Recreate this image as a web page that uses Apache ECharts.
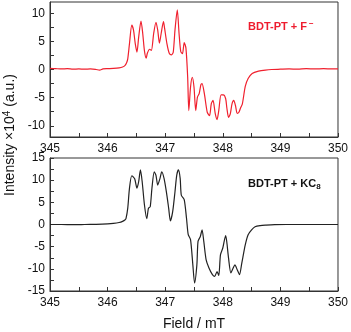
<!DOCTYPE html>
<html>
<head>
<meta charset="utf-8">
<script src="https://cdn.jsdelivr.net/npm/echarts@6/dist/echarts.min.js"></script>
<style>
  html, body { margin: 0; padding: 0; background: #fff; }
  #chart { width: 351px; height: 332px; }
</style>
</head>
<body>
<div id="chart"></div>
<script>
// BDT-PT + F- (top, red)
var fieldTop = [345.00, 345.10, 345.20, 345.30, 345.40, 345.50, 345.60, 345.70, 345.80, 345.86,
  345.92, 346.00, 346.10, 346.20, 346.26, 346.30, 346.33, 346.35, 346.38, 346.42,
  346.45, 346.48, 346.51, 346.54, 346.58, 346.61, 346.64, 346.67, 346.69, 346.73,
  346.76, 346.80, 346.84, 346.87, 346.90, 346.93, 346.97, 346.99, 347.03, 347.07,
  347.11, 347.14, 347.17, 347.21, 347.24, 347.27, 347.30, 347.33, 347.36, 347.39,
  347.41, 347.44, 347.47, 347.50, 347.53, 347.56, 347.59, 347.62, 347.64, 347.68,
  347.73, 347.77, 347.80, 347.83, 347.87, 347.90, 347.93, 347.97, 348.01, 348.05,
  348.07, 348.10, 348.13, 348.16, 348.19, 348.22, 348.25, 348.28, 348.31, 348.34,
  348.39, 348.44, 348.51, 348.62, 348.74, 348.85, 349.00, 349.15, 349.30, 349.45,
  349.60, 349.75, 349.90, 350.00];
var valTop = [0.2, 0.15, 0.1, 0.15, 0.05, 0.1, 0.05, 0.1, 0.0, -0.1,
  0.1, 0.15, 0.2, 0.3, 0.45, 0.7, 1.2, 1.9, 4.6, 7.9,
  7.0, 4.6, 3.1, 5.8, 8.6, 6.4, 3.3, 2.0, 2.9, 3.6,
  3.4, 6.4, 8.4, 7.0, 4.7, 6.4, 8.5, 7.3, 4.6, 2.9,
  2.6, 3.1, 7.0, 10.6, 6.5, 3.2, 2.8, 4.8, 3.8, -1.3,
  -7.3, -3.1, -1.4, -3.1, -7.3, -4.9, -4.3, -2.7, -2.5, -4.3,
  -7.6, -8.2, -6.1, -5.5, -7.9, -8.9, -7.3, -4.5, -4.5, -5.2,
  -6.8, -8.5, -7.9, -6.1, -5.5, -6.4, -7.8, -7.6, -6.8, -6.1,
  -3.0, -1.6, -0.7, -0.3, -0.1, 0.0, 0.05, 0.1, 0.05, 0.15,
  0.1, 0.15, 0.1, 0.1];

// BDT-PT + KC8 (bottom, black)
var fieldBot = [345.00, 345.20, 345.40, 345.60, 345.80, 346.00, 346.10, 346.20, 346.26, 346.30,
  346.32, 346.35, 346.38, 346.42, 346.47, 346.51, 346.54, 346.57, 346.60, 346.64,
  346.68, 346.71, 346.74, 346.77, 346.81, 346.84, 346.87, 346.91, 346.94, 346.98,
  347.02, 347.06, 347.09, 347.13, 347.17, 347.20, 347.23, 347.26, 347.28, 347.33,
  347.37, 347.40, 347.44, 347.48, 347.51, 347.55, 347.57, 347.61, 347.64, 347.67,
  347.71, 347.76, 347.82, 347.86, 347.90, 347.93, 347.96, 348.00, 348.05, 348.07,
  348.10, 348.14, 348.18, 348.21, 348.25, 348.29, 348.33, 348.39, 348.44, 348.50,
  348.56, 348.65, 348.75, 348.90, 349.10, 349.40, 349.70, 350.00];
var valBot = [0.0, 0.0, -0.05, 0.0, 0.05, 0.15, 0.25, 0.45, 0.7, 1.0,
  1.4, 3.7, 8.2, 11.0, 10.3, 8.2, 9.7, 12.3, 9.7, 4.4,
  1.3, 3.7, 4.0, 8.2, 11.9, 11.1, 8.9, 10.4, 11.9, 10.4,
  7.4, 3.7, 0.8, 2.9, 7.4, 11.1, 12.3, 10.4, 6.6, 5.6,
  1.4, -2.3, -3.4, -9.1, -13.2, -9.1, -3.8, -2.7, -1.2, -3.8,
  -7.9, -9.8, -11.3, -11.7, -10.6, -11.5, -6.8, -5.3, -2.5, -4.0,
  -7.6, -10.9, -9.8, -9.1, -10.2, -11.3, -8.7, -4.6, -2.3, -1.2,
  -0.5, -0.25, -0.15, -0.05, 0.0, 0.0, 0.0, 0.0];

var topLabels = [-10, -5, 0, 5, 10];
var topTicks = [-10, -7.5, -5, -2.5, 0, 2.5, 5, 7.5, 10];

function pairs(xs, ys) {
  return xs.map(function (x, i) { return [x, ys[i]]; });
}

var axisColor = "#333";
var font = "Liberation Sans, Arial, sans-serif";

function xAxisFor(gridIndex, withName) {
  return {
    type: "value",
    gridIndex: gridIndex,
    min: 345,
    max: 350,
    interval: 1,
    name: withName ? "Field / mT" : "",
    nameLocation: "middle",
    nameGap: 26,
    nameTextStyle: { fontFamily: font, fontSize: 14, color: "#111" },
    axisLine: { show: true, onZero: false, lineStyle: { color: axisColor, width: 1 } },
    axisTick: { show: true, inside: true, length: 4, lineStyle: { color: axisColor } },
    minorTick: { show: true, splitNumber: 2, length: 4, lineStyle: { color: axisColor } },
    splitLine: { show: false },
    axisLabel: { fontFamily: font, fontSize: 12, color: "#111", margin: 6, showMinLabel: true, showMaxLabel: true },
  };
}

var option = {
  animation: false,
  backgroundColor: "#fff",
  grid: [
    { left: 50, top: 2, width: 290, height: 135, show: true, borderColor: axisColor, borderWidth: 1 },
    { left: 50, top: 158, width: 290, height: 133.5, show: true, borderColor: axisColor, borderWidth: 1 },
  ],
  xAxis: [xAxisFor(0, false), xAxisFor(1, true)],
  yAxis: [
    {
      type: "value",
      gridIndex: 0,
      min: -12,
      max: 12,
      axisLine: { show: true, onZero: false, lineStyle: { color: axisColor } },
      axisTick: { show: true, inside: true, length: 4, customValues: topTicks, lineStyle: { color: axisColor } },
      splitLine: { show: false },
      axisLabel: { fontFamily: font, fontSize: 12, color: "#111", margin: 5, customValues: topLabels },
    },
    {
      type: "value",
      gridIndex: 1,
      min: -15,
      max: 15,
      interval: 5,
      axisLine: { show: true, onZero: false, lineStyle: { color: axisColor } },
      axisTick: { show: true, inside: true, length: 4, lineStyle: { color: axisColor } },
      minorTick: { show: true, splitNumber: 2, length: 4, lineStyle: { color: axisColor } },
      splitLine: { show: false },
      axisLabel: { fontFamily: font, fontSize: 12, color: "#111", margin: 5 },
    },
  ],
  graphic: [
    {
      type: "text",
      x: 10,
      y: 135,
      rotation: Math.PI / 2,
      style: {
        text: "{a|Intensity ×10}{s|4}{a| (a.u.)}",
        textAlign: "center",
        textVerticalAlign: "middle",
        fill: "#111",
        rich: {
          a: { fontFamily: font, fontSize: 14, lineHeight: 16, fill: "#111" },
          s: { fontFamily: font, fontSize: 10, lineHeight: 10, verticalAlign: "top", fill: "#111" },
        },
      },
    },
    {
      type: "text",
      x: 248,
      y: 27,
      style: {
        text: "{a|BDT-PT + F}{s|−}",
        textVerticalAlign: "middle",
        rich: {
          a: { fontFamily: font, fontSize: 11, fontWeight: "bold", lineHeight: 14, fill: "#ee1c2e" },
          s: { fontFamily: font, fontSize: 8, fontWeight: "bold", lineHeight: 8, verticalAlign: "top", fill: "#ee1c2e", padding: [0, 0, 0, 2] },
        },
      },
    },
    {
      type: "text",
      x: 248,
      y: 184,
      style: {
        text: "{a|BDT-PT + KC}{s|8}",
        textVerticalAlign: "middle",
        rich: {
          a: { fontFamily: font, fontSize: 11, fontWeight: "bold", lineHeight: 14, fill: "#111" },
          s: { fontFamily: font, fontSize: 8, fontWeight: "bold", lineHeight: 8, verticalAlign: "bottom", fill: "#111" },
        },
      },
    },
  ],
  series: [
    {
      type: "line",
      xAxisIndex: 0,
      yAxisIndex: 0,
      data: pairs(fieldTop, valTop),
      showSymbol: false,
      smooth: 0.25,
      lineStyle: { color: "#f0202e", width: 1.2 },
    },
    {
      type: "line",
      xAxisIndex: 1,
      yAxisIndex: 1,
      data: pairs(fieldBot, valBot),
      showSymbol: false,
      smooth: 0.25,
      lineStyle: { color: "#222", width: 1.2 },
    },
  ],
};

var chart = echarts.init(document.getElementById("chart"));
chart.setOption(option);
</script>
</body>
</html>
